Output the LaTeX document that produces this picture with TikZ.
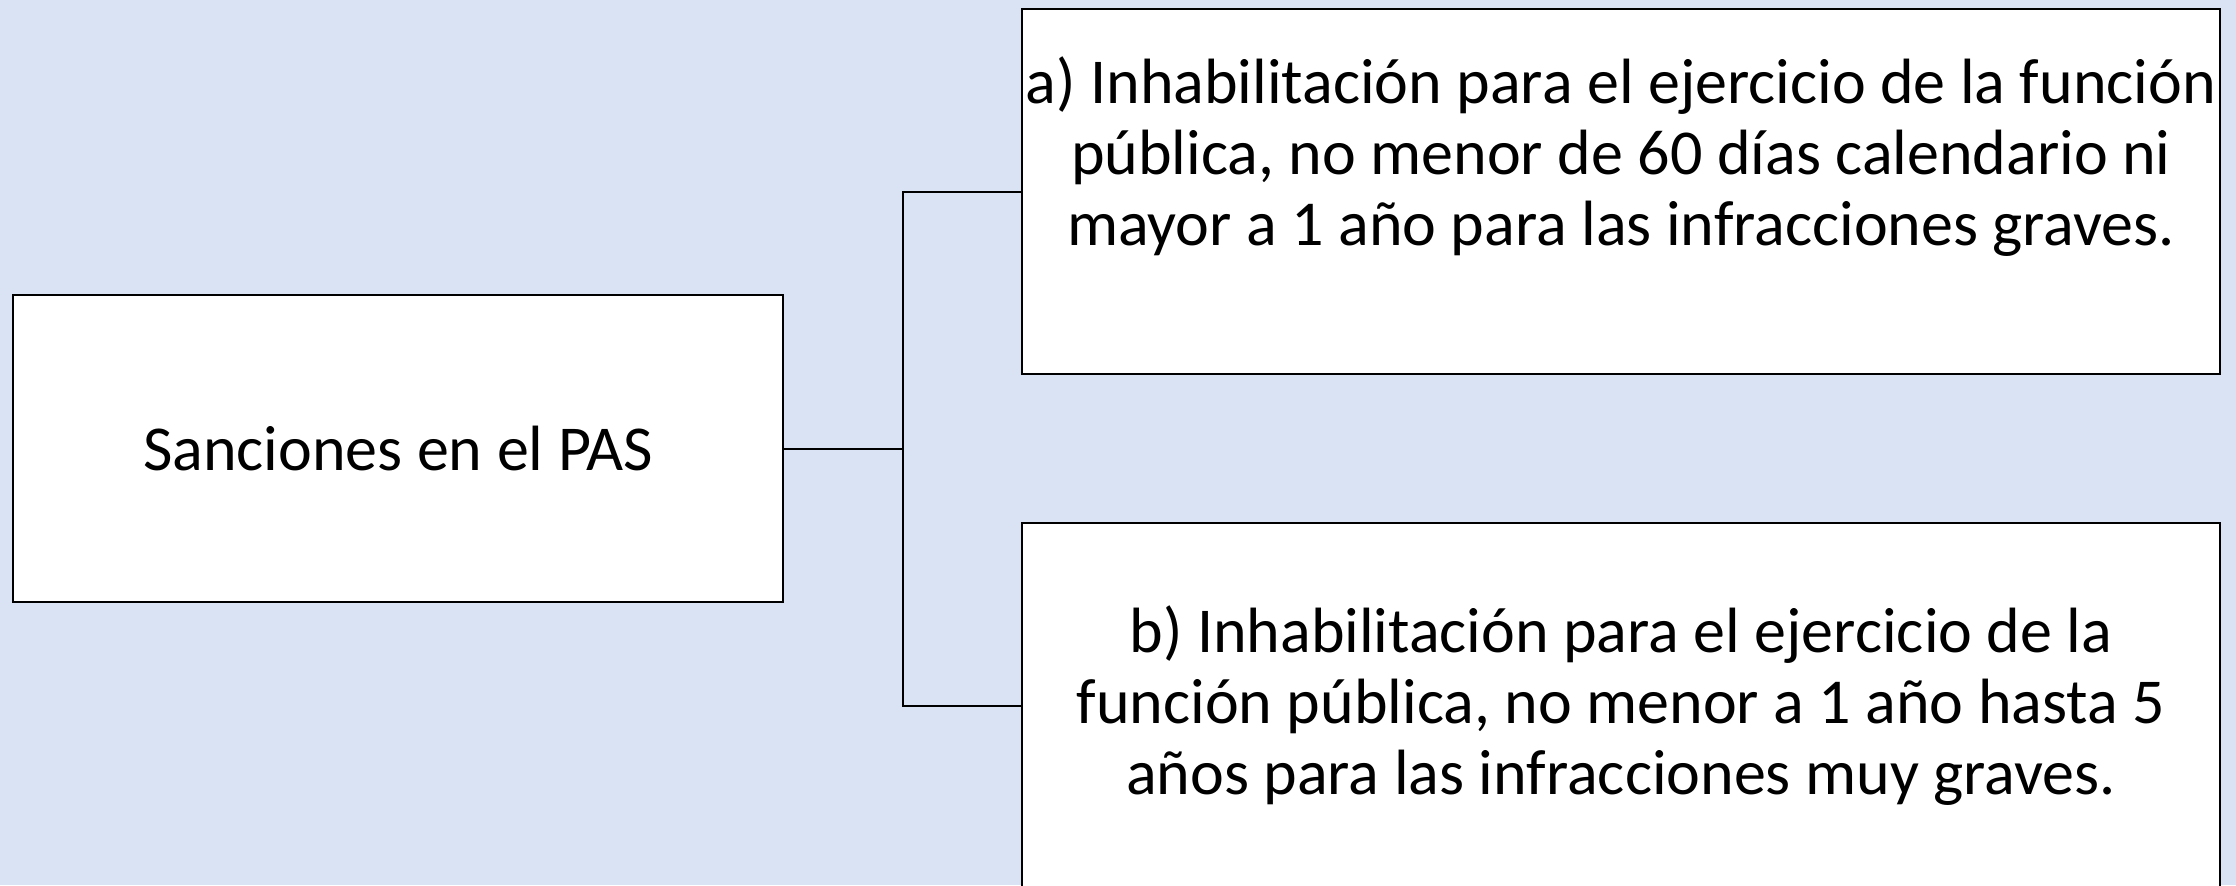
\documentclass[tikz,border=0pt]{standalone}
\usepackage{fontspec}
\setmainfont{Carlito}
\usetikzlibrary{calc}

\definecolor{pagebg}{RGB}{218,227,243}

\begin{document}
\begin{tikzpicture}[x=0.5pt,y=-0.5pt,
  object/.style={draw,line width=1pt,fill=white,inner sep=0pt},
  caption/.style={align=center,font=\fontsize{32pt}{35.5pt}\selectfont},
  link/.style={line width=1pt}]
  \fill[pagebg] (0,0) rectangle (2236,885);
  \useasboundingbox (0,0) rectangle (2236,885);

  \node[object,minimum width=385pt,minimum height=153.5pt] (root) at (398,448.5) {};
  \node[caption] (root text) at (root.center) {Sanciones en el PAS};
  \node[object,minimum width=599pt,minimum height=182.5pt] (sanction a) at (1621,191.5) {};
  \node[caption] (sanction a text) at ($ (sanction a.center) + (0,-35) $) {a) Inhabilitación para el ejercicio de la función\\pública, no menor de 60 días calendario ni\\mayor a 1 año para las infracciones graves.};
  \node[object,minimum width=599pt,minimum height=183pt] (sanction b) at (1621,706) {};
  \node[caption] (sanction b text) at (sanction b.center) {b) Inhabilitación para el ejercicio de la\\función pública, no menor a 1 año hasta 5\\años para las infracciones muy graves.};

  \coordinate (fork) at (903,448.5);
  \draw[link] (root.east) -- (fork);
  \draw[link] (fork) |- (sanction a.west);
  \draw[link] (fork) |- (sanction b.west);
\end{tikzpicture}
\end{document}
